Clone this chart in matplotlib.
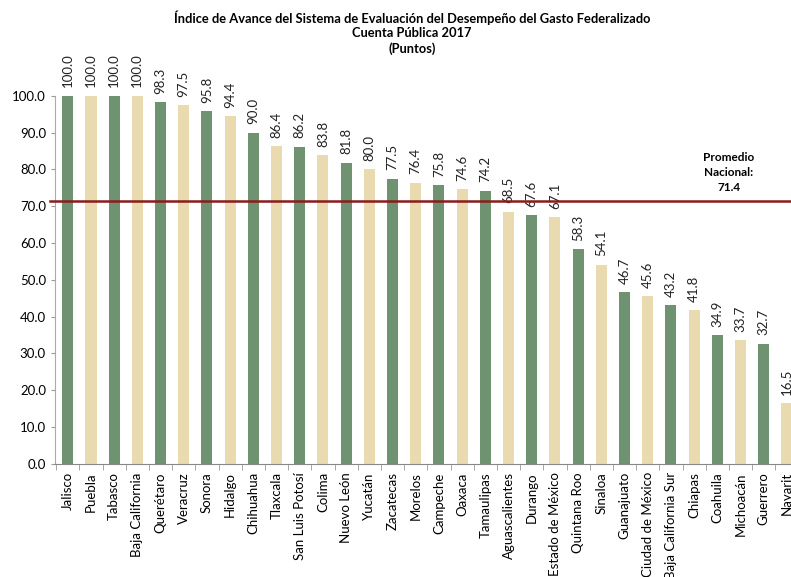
import matplotlib.pyplot as plt
import numpy as np

plt.rcParams['font.family'] = ['Lato', 'DejaVu Sans']

estados = ["Jalisco", "Puebla", "Tabasco", "Baja California", "Querétaro", "Veracruz",
           "Sonora", "Hidalgo", "Chihuahua", "Tlaxcala", "San Luis Potosí", "Colima",
           "Nuevo León", "Yucatán", "Zacatecas", "Morelos", "Campeche", "Oaxaca",
           "Tamaulipas", "Aguascalientes", "Durango", "Estado de México", "Quintana Roo",
           "Sinaloa", "Guanajuato", "Ciudad de México", "Baja California Sur", "Chiapas",
           "Coahuila", "Michoacán", "Guerrero", "Nayarit"]
puntos = [100.0, 100.0, 100.0, 100.0, 98.3, 97.5, 95.8, 94.4, 90.0, 86.4, 86.2, 83.8,
          81.8, 80.0, 77.5, 76.4, 75.8, 74.6, 74.2, 68.5, 67.6, 67.1, 58.3, 54.1,
          46.7, 45.6, 43.2, 41.8, 34.9, 33.7, 32.7, 16.5]
promedio = 71.4

verde = "#6f9270"
beige = "#e9dab0"

fig = plt.figure(figsize=(7.91, 5.77), dpi=100)
# the axes run slightly past the right edge, as in the original crop
ax = fig.add_axes([0.0695, 0.196, 0.94, 0.638])

x = np.arange(len(estados))
colores = [verde if i % 2 == 0 else beige for i in range(len(estados))]
rects = ax.bar(x, puntos, 0.48, color=colores)
ax.bar_label(rects, labels=[f"{v:.1f}" for v in puntos], rotation=90,
             padding=6, fontsize=9.5, color="#222222")

ax.axhline(promedio, xmin=-0.007, xmax=1, color="#8a1c1c", lw=1.8, clip_on=False, zorder=3)
ax.text(28.5, promedio + 2.2, "Promedio\nNacional:\n71.4", ha="center", va="bottom",
        fontsize=8.5, fontweight="bold", linespacing=1.45)

ax.set_xlim(-0.55, 31.5)
ax.set_ylim(0, 100)
ax.set_yticks(np.arange(0, 101, 10))
ax.set_yticklabels([f"{v:.1f}" for v in np.arange(0, 101, 10)], fontsize=9.5)
ax.set_xticks(x)
ax.set_xticklabels(estados, rotation=90, fontsize=9.5)
ax.tick_params(axis="x", length=0, pad=6)
ax.set_xticks(np.arange(-0.5, len(estados), 1), minor=True)
ax.tick_params(axis="x", which="minor", length=4, color="#999999")
ax.tick_params(axis="y", length=3, color="#999999")

for s in ["top", "right"]:
    ax.spines[s].set_visible(False)
ax.spines["left"].set_color("#aaaaaa")
ax.spines["bottom"].set_color("#888888")

fig.text(0.521, 0.982, "Índice de Avance del Sistema de Evaluación del Desempeño del Gasto Federalizado\n"
         "Cuenta Pública 2017\n(Puntos)", ha="center", va="top", fontsize=9.3,
         fontweight="bold", linespacing=1.25)

fig.savefig("out.png", dpi=100)
